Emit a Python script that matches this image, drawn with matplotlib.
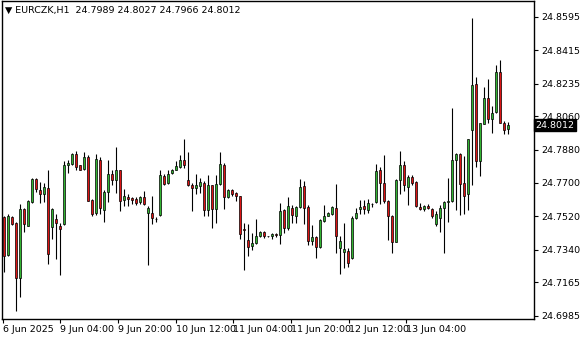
import matplotlib
matplotlib.use("Agg")
from matplotlib import pyplot as plt
import matplotlib.transforms as mtransforms

# hourly candles (open, high, low, close)
opens = [24.7515, 24.7311, 24.7516, 24.7484, 24.7187, 24.7560, 24.7470, 24.7596, 24.7722, 24.7664,
         24.7641, 24.7673, 24.7462, 24.7506, 24.7466, 24.7479, 24.7797, 24.7803, 24.7857, 24.7794,
         24.7776, 24.7837, 24.7608, 24.7538, 24.7826, 24.7556, 24.7651, 24.7750, 24.7716, 24.7770,
         24.7608, 24.7624, 24.7617, 24.7615, 24.7596, 24.7624, 24.7536, 24.7538, 24.7507, 24.7525,
         24.7740, 24.7700, 24.7754, 24.7768, 24.7786, 24.7826, 24.7714, 24.7691, 24.7671, 24.7686,
         24.7700, 24.7554, 24.7691, 24.7560, 24.7695, 24.7799, 24.7623, 24.7664, 24.7646, 24.7632,
         24.7453, 24.7394, 24.7358, 24.7376, 24.7412, 24.7435, 24.7414, 24.7412, 24.7424, 24.7419,
         24.7552, 24.7455, 24.7565, 24.7520, 24.7570, 24.7686, 24.7570, 24.7385, 24.7408, 24.7354,
         24.7493, 24.7524, 24.7534, 24.7565, 24.7348, 24.7330, 24.7334, 24.7294, 24.7511, 24.7560,
         24.7577, 24.7556, 24.7586, 24.7595, 24.7772, 24.7700, 24.7604, 24.7520, 24.7384, 24.7714,
         24.7799, 24.7676, 24.7732, 24.7705, 24.7570, 24.7561, 24.7577, 24.7560, 24.7478, 24.7511,
         24.7565, 24.7599, 24.7601, 24.7823, 24.7857, 24.7700, 24.7641, 24.7985, 24.8232, 24.7817,
         24.8019, 24.8156, 24.8042, 24.8082, 24.8298, 24.8024, 24.7989]
highs = [24.7520, 24.7533, 24.7520, 24.7487, 24.7588, 24.7565, 24.7608, 24.7728, 24.7727, 24.7707,
         24.7700, 24.7772, 24.7565, 24.7535, 24.7484, 24.7817, 24.7822, 24.7862, 24.7871, 24.7799,
         24.7867, 24.7848, 24.7614, 24.7858, 24.7840, 24.7660, 24.7821, 24.7772, 24.7894, 24.7772,
         24.7669, 24.7642, 24.7624, 24.7624, 24.7628, 24.7659, 24.7578, 24.7632, 24.7518, 24.7767,
         24.7749, 24.7768, 24.7776, 24.7819, 24.7853, 24.7939, 24.7867, 24.7700, 24.7750, 24.7727,
         24.7709, 24.7745, 24.7691, 24.7745, 24.7867, 24.7808, 24.7668, 24.7669, 24.7650, 24.7632,
         24.7484, 24.7480, 24.7430, 24.7507, 24.7439, 24.7439, 24.7416, 24.7430, 24.7430, 24.7594,
         24.7560, 24.7624, 24.7583, 24.7574, 24.7721, 24.7712, 24.7583, 24.7475, 24.7415, 24.7506,
         24.7583, 24.7542, 24.7578, 24.7696, 24.7412, 24.7484, 24.7348, 24.7520, 24.7565, 24.7610,
         24.7610, 24.7613, 24.7592, 24.7802, 24.7784, 24.7853, 24.7610, 24.7529, 24.7721, 24.7874,
         24.7817, 24.7745, 24.7745, 24.7709, 24.7592, 24.7583, 24.7588, 24.7565, 24.7547, 24.7583,
         24.7602, 24.7729, 24.8102, 24.7862, 24.7862, 24.7844, 24.7938, 24.8588, 24.8268, 24.8024,
         24.8219, 24.8259, 24.8115, 24.8334, 24.8361, 24.8033, 24.8027]
lows = [24.7218, 24.7304, 24.7475, 24.7012, 24.7083, 24.7434, 24.7466, 24.7592, 24.7650, 24.7592,
        24.7596, 24.7263, 24.7398, 24.7290, 24.7203, 24.7475, 24.7754, 24.7799, 24.7768, 24.7768,
        24.7772, 24.7601, 24.7520, 24.7525, 24.7535, 24.7489, 24.7596, 24.7687, 24.7646, 24.7547,
        24.7574, 24.7578, 24.7588, 24.7583, 24.7587, 24.7583, 24.7257, 24.7479, 24.7489, 24.7520,
        24.7689, 24.7695, 24.7750, 24.7767, 24.7781, 24.7781, 24.7682, 24.7547, 24.7642, 24.7646,
        24.7520, 24.7520, 24.7455, 24.7484, 24.7689, 24.7560, 24.7619, 24.7632, 24.7601, 24.7398,
        24.7232, 24.7304, 24.7340, 24.7372, 24.7408, 24.7403, 24.7407, 24.7398, 24.7408, 24.7369,
        24.7428, 24.7448, 24.7484, 24.7484, 24.7565, 24.7479, 24.7367, 24.7367, 24.7295, 24.7349,
        24.7488, 24.7520, 24.7529, 24.7322, 24.7208, 24.7240, 24.7249, 24.7289, 24.7507, 24.7534,
        24.7534, 24.7538, 24.7570, 24.7592, 24.7588, 24.7592, 24.7390, 24.7325, 24.7383, 24.7642,
        24.7658, 24.7583, 24.7691, 24.7570, 24.7556, 24.7550, 24.7560, 24.7511, 24.7469, 24.7433,
        24.7323, 24.7487, 24.7596, 24.7552, 24.7529, 24.7532, 24.7556, 24.7691, 24.7787, 24.7736,
        24.8015, 24.8024, 24.7967, 24.8078, 24.8021, 24.7961, 24.7966]
closes = [24.7308, 24.7524, 24.7479, 24.7187, 24.7560, 24.7479, 24.7605, 24.7723, 24.7668, 24.7641,
          24.7678, 24.7315, 24.7560, 24.7482, 24.7452, 24.7799, 24.7806, 24.7857, 24.7786, 24.7772,
          24.7837, 24.7605, 24.7533, 24.7830, 24.7565, 24.7650, 24.7750, 24.7716, 24.7770, 24.7603,
          24.7632, 24.7614, 24.7606, 24.7592, 24.7624, 24.7587, 24.7567, 24.7511, 24.7507, 24.7745,
          24.7693, 24.7750, 24.7772, 24.7790, 24.7826, 24.7797, 24.7687, 24.7673, 24.7689, 24.7707,
          24.7554, 24.7691, 24.7560, 24.7695, 24.7803, 24.7623, 24.7664, 24.7642, 24.7628, 24.7424,
          24.7446, 24.7354, 24.7376, 24.7416, 24.7435, 24.7412, 24.7413, 24.7424, 24.7418, 24.7550,
          24.7455, 24.7578, 24.7525, 24.7570, 24.7680, 24.7565, 24.7385, 24.7410, 24.7354, 24.7502,
          24.7524, 24.7538, 24.7570, 24.7412, 24.7388, 24.7345, 24.7271, 24.7511, 24.7538, 24.7570,
          24.7560, 24.7592, 24.7588, 24.7766, 24.7700, 24.7601, 24.7520, 24.7384, 24.7718, 24.7799,
          24.7687, 24.7732, 24.7700, 24.7574, 24.7561, 24.7577, 24.7563, 24.7520, 24.7532, 24.7565,
          24.7597, 24.7601, 24.7821, 24.7857, 24.7695, 24.7628, 24.7934, 24.8226, 24.7817, 24.8021,
          24.8156, 24.8046, 24.8078, 24.8298, 24.8024, 24.7985, 24.8012]

price_ticks = [24.8595, 24.8415, 24.8235, 24.8060, 24.7880, 24.7700, 24.7520, 24.7340, 24.7165, 24.6985]
time_labels = ["6 Jun 2025", "9 Jun 04:00", "9 Jun 20:00", "10 Jun 12:00",
               "11 Jun 04:00", "11 Jun 20:00", "12 Jun 12:00", "13 Jun 04:00"]
time_label_bars = [-0.2, 14.2, 28.6, 43.1, 57.4, 71.9, 86.4, 100.6]

symbol = "EURCZK,H1"
last_price = closes[-1]

fig = plt.figure(figsize=(5.8, 3.4), dpi=100)
ax = fig.add_axes([2 / 580, 21 / 340, 532 / 580, 318 / 340])

up_col = "#32b432"
down_col = "#dc1414"
n = len(opens)
xs = list(range(n))

# wicks first, bodies on top
ax.vlines(xs, lows, highs, color="black", linewidth=0.8, zorder=2)
bottoms = [min(o, c) for o, c in zip(opens, closes)]
heights = [max(abs(c - o), 0.00002) for o, c in zip(opens, closes)]
cols = [up_col if c >= o else down_col for o, c in zip(opens, closes)]
ax.bar(xs, heights, bottom=bottoms, width=0.5, color=cols,
       edgecolor="black", linewidth=0.5, zorder=3)

ax.set_xlim(-0.375, 132.6)
ax.set_ylim(24.6967, 24.8680)

ax.yaxis.tick_right()
ax.set_yticks(price_ticks)
ax.set_yticklabels([f"{v:.4f}" for v in price_ticks])
ax.tick_params(axis="y", direction="out", length=3, width=0.8, pad=2.5, labelsize=6.8)

ax.set_xticks(time_label_bars)
ax.set_xticklabels(time_labels, ha="left")
ax.tick_params(axis="x", direction="out", length=3, width=0.8, pad=1.5, labelsize=6.8)

for s in ax.spines.values():
    s.set_linewidth(1.0)
    s.set_color("black")

# current price marker on the right scale
trans = mtransforms.blended_transform_factory(ax.transAxes, ax.transData)
ax.text(1.003, last_price, f"{last_price:.4f}", transform=trans, color="white",
        fontsize=6.8, va="center", ha="left",
        bbox=dict(boxstyle="square,pad=0.18", facecolor="black", edgecolor="black"))

fig.text(5 / 580, 1 - 10 / 340,
         "\u25bc " + symbol + "  " + " ".join(f"{v:.4f}" for v in
                                            [opens[-1], highs[-1], lows[-1], closes[-1]]),
         fontsize=6.8, va="center", ha="left")

fig.savefig("out.png", dpi=100)
